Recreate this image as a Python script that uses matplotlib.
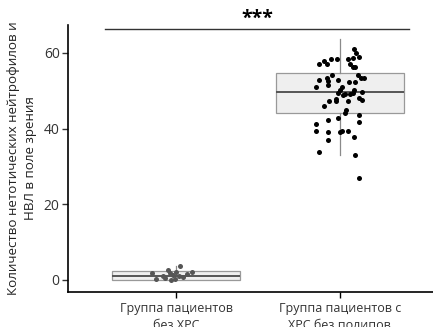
import numpy as np
import matplotlib
matplotlib.use("Agg")
from matplotlib import pyplot as plt

plt.rcParams['font.family'] = ['Open Sans', 'DejaVu Sans']

# categories
groups = ["Группа пациентов\nбез ХРС", "Группа пациентов с\nХРС без полипов"]

# box statistics
box_q1 = [0.0, 44.2]
box_med = [1.0, 49.6]
box_q3 = [2.3, 54.8]
box_lo = [0.0, 33.0]
box_hi = [3.8, 63.8]

# individual points (value, jitter offset)
g1_vals = [1.8, 0.2, 1.1, 2.6, 1.8, 1.4, 2.2, 3.8, 0.9, 0.0, 0.2, 1.5, 2.2, 0.5, 0.8]
g1_jit = [-0.15, -0.12, -0.08, -0.05, -0.04, -0.02, 0.0, 0.024, 0.015, -0.03, -0.005, 0.065, 0.095, -0.065, 0.04]

g2_vals = [61.0, 60.1, 58.9, 58.6, 58.4, 58.4, 58.4, 57.9, 57.1, 57.0,
           57.1, 56.4, 56.3, 54.1, 53.3, 53.3, 54.2, 53.3, 52.9, 52.9,
           52.5, 52.2, 52.2, 51.1, 51.6, 50.9, 50.3, 50.3, 49.4, 49.1,
           49.1, 49.4, 49.6, 48.2, 47.6, 47.8, 47.2, 47.2, 47.2, 45.9,
           45.0, 44.1, 43.7, 42.8, 42.3, 41.7, 41.3, 39.5, 39.2, 39.2,
           39.5, 39.3, 37.9, 36.9, 33.9, 33.1, 26.9, 49.0]
g2_jit = [0.087, 0.10, 0.114, 0.08, 0.05, -0.02, -0.055, -0.095, -0.126, -0.08,
          0.06, 0.077, 0.093, 0.11, 0.148, 0.128, -0.05, -0.08, -0.13, -0.014,
          -0.07, 0.053, 0.09, -0.146, -0.075, 0.01, 0.0, 0.087, -0.014, 0.03,
          0.06, 0.08, 0.134, 0.114, 0.134, -0.026, -0.065, -0.022, 0.05, -0.095,
          0.04, 0.03, 0.114, -0.01, -0.07, 0.116, -0.146, -0.146, -0.07, 0.0,
          0.01, 0.047, 0.087, -0.07, -0.126, 0.09, 0.114, 0.02]

fig = plt.figure(figsize=(4.33, 3.27), dpi=100)
ax = fig.add_axes([68/433, 1-292/327, 380/433, 267/327])

stats = []
for i in range(2):
    stats.append(dict(q1=box_q1[i], med=box_med[i], q3=box_q3[i],
                      whislo=box_lo[i], whishi=box_hi[i], fliers=[]))
ax.bxp(stats, positions=[0, 1], widths=0.78, patch_artist=True, showcaps=False,
       boxprops=dict(facecolor='#efefef', edgecolor='#999999', linewidth=0.9),
       medianprops=dict(color='#555555', linewidth=1.4),
       whiskerprops=dict(color='#8a8a8a', linewidth=0.9), zorder=1)

ax.scatter(np.array(g1_jit), g1_vals, s=13, color='#555555', zorder=3, linewidths=0)
ax.scatter(1 + np.array(g2_jit), g2_vals, s=13, color='black', zorder=3, linewidths=0)

# significance bar
ax.plot([-0.435, 1.42], [66.3, 66.3], color='#333333', lw=1.0, clip_on=False)
ax.text(0.495, 66.4, "***", ha='center', va='bottom', fontsize=14,
        fontweight='bold', clip_on=False)

ax.set_xlim(-0.66, 1.66)
ax.set_ylim(-3.2, 67.4)
ax.set_xticks([0, 1])
ax.set_xticklabels(groups, fontsize=9, color='#333333', linespacing=1.45)
ax.set_yticks([0, 20, 40, 60])
ax.tick_params(axis='y', labelsize=10, colors='#333333', length=4, width=1, pad=2)
ax.tick_params(axis='x', length=4, width=1, pad=3)
for s in ['top', 'right']:
    ax.spines[s].set_visible(False)
for s in ['left', 'bottom']:
    ax.spines[s].set_linewidth(1.2)
ax.set_ylabel("Количество нетотических нейтрофилов и\nНВЛ в поле зрения",
              fontsize=9.6, color='#222222', labelpad=5, linespacing=1.4)

fig.savefig("out.png", dpi=100)
